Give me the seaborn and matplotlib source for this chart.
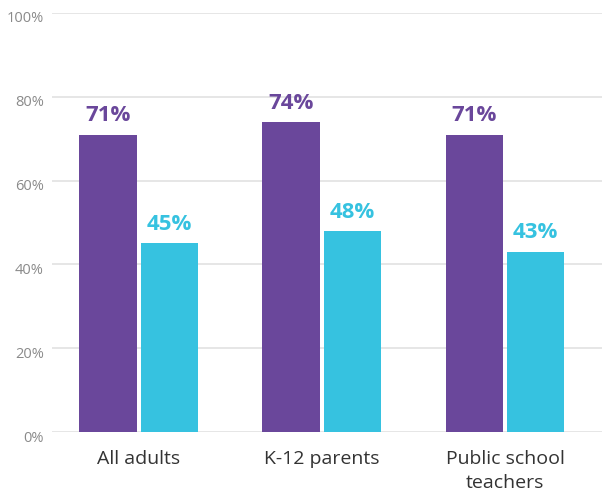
import matplotlib
matplotlib.use("Agg")
import matplotlib.pyplot as plt
import matplotlib.transforms as mtransforms
import seaborn as sns
import pandas as pd

categories = ["All adults", "K-12 parents", "Public school\nteachers"]
series_names = ["Series 1", "Series 2"]
series1 = [71, 74, 71]
series2 = [45, 48, 43]
yticks = [0, 20, 40, 60, 80, 100]
ytick_labels = ["0%", "20%", "40%", "60%", "80%", "100%"]

colors = ["#6A479B", "#36C2E0"]

df = pd.DataFrame({
    "category": categories * 2,
    "series": [series_names[0]] * 3 + [series_names[1]] * 3,
    "value": series1 + series2,
})

sns.set_theme(style="white")
plt.rcParams["font.family"] = ["Open Sans", "DejaVu Sans"]

fig = plt.figure(figsize=(6.02, 4.93), dpi=100)
ax = fig.add_axes([52 / 602, 61 / 493, 1 - 52 / 602, 419 / 493])

sns.barplot(data=df, x="category", y="value", hue="series", order=categories,
            hue_order=series_names, palette=colors, width=0.67, gap=0.06,
            linewidth=0, saturation=1, legend=False, ax=ax, zorder=3)

ax.set_xlim(-0.475, 2.53)
ax.set_ylim(0, 100)
ax.set_yticks(yticks)
ax.set_yticklabels(ytick_labels, color="#8a8a8a", fontsize=10.5)
ax.tick_params(axis="y", length=0, pad=6)
ax.tick_params(axis="x", length=0, pad=13, labelsize=14, labelcolor="#333333")
offset = mtransforms.ScaledTranslation(0, -4 / 100, fig.dpi_scale_trans)
for lbl in ax.get_yticklabels():
    lbl.set_transform(lbl.get_transform() + offset)
for lbl in ax.get_xticklabels():
    lbl.set_linespacing(1.45)
ax.yaxis.grid(True, color="#e2e2e2", linewidth=1.2, zorder=0)
ax.set_axisbelow(True)
for s in ax.spines.values():
    s.set_visible(False)
ax.set_xlabel("")
ax.set_ylabel("")

for container, col in zip(ax.containers, colors):
    ax.bar_label(container, labels=[f"{v:.0f}%" for v in container.datavalues],
                 padding=6, color=col, fontsize=16, fontweight="bold")

fig.savefig("out.png", dpi=100)
